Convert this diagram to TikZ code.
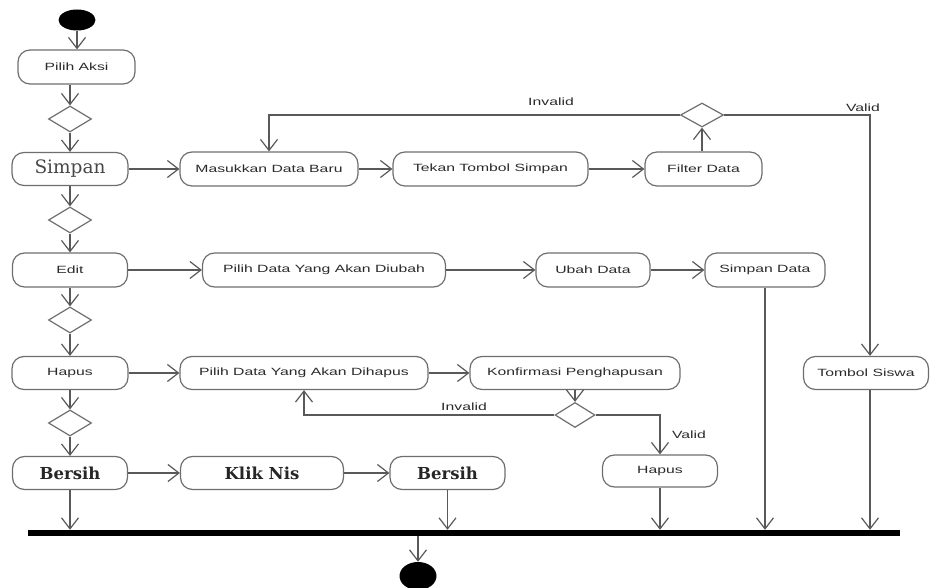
\documentclass[tikz,border=0pt]{standalone}
\usepackage{fontspec}
\usetikzlibrary{arrows.meta,shapes.geometric}
\newfontfamily\uifont[FakeStretch=1.5]{Liberation Sans}
\newfontfamily\serifact{DejaVu Serif}
\definecolor{linegray}{HTML}{595959}
\definecolor{boxgray}{HTML}{6E6E6E}
\definecolor{inkgray}{HTML}{2A2A2A}

\begin{document}
\begin{tikzpicture}[x=1pt,y=-1pt,
  act/.style={draw=boxgray, line width=1.2pt, rounded corners=12pt,
    minimum height=34pt, inner sep=0pt, text=inkgray,
    font=\uifont\fontsize{10.5}{12}\selectfont},
  bigact/.style={act, font=\serifact\fontsize{18.5}{20}\selectfont, text=black!72},
  boldact/.style={act, font=\serifact\bfseries\fontsize{16.5}{18}\selectfont, text=black!85},
  choice/.style={diamond, draw=boxgray, line width=1.2pt, inner sep=0pt,
    minimum width=43pt, minimum height=26pt},
  dot/.style={ellipse, fill=black, inner sep=0pt},
  flow/.style={draw=linegray, line width=1.2pt,
    -{Straight Barb[length=11pt,width=17pt]}},
  guard/.style={text=inkgray, font=\uifont\fontsize{10.5}{12}\selectfont, inner sep=1pt}
]
\useasboundingbox (0,0) rectangle (930,588);

% initial and final states
\node[dot, minimum width=37pt, minimum height=21pt] (start) at (77,20) {};
\node[dot, minimum width=37pt, minimum height=28pt] (end) at (418,576) {};

% synchronisation bar
\node[fill=black, inner sep=0pt, minimum width=872pt, minimum height=6pt] (bar) at (464,533) {};

% left column: choice of action
\node[act, minimum width=117pt] (pilih) at (76.5,67) {Pilih Aksi};
\node[choice] (c1) at (70,119) {};
\node[bigact, minimum width=116pt, minimum height=33pt] (simpan) at (70,169) {Simpan};
\node[choice] (c2) at (70,220) {};
\node[act, minimum width=115pt] (edit) at (70,270) {Edit};
\node[choice] (c3) at (70,320) {};
\node[act, minimum width=116pt, minimum height=33pt] (hapus) at (70,373) {Hapus};
\node[choice] (c4) at (70,423) {};
\node[boldact, minimum width=115pt, minimum height=33pt] (bersih) at (70,473) {Bersih};

% save branch
\node[act, minimum width=178pt] (masuk) at (269,169) {Masukkan Data Baru};
\node[act, minimum width=195pt] (tekan) at (490.5,169) {Tekan Tombol Simpan};
\node[act, minimum width=117pt] (filter) at (703.5,169) {Filter Data};
\node[choice, minimum height=24pt] (csave) at (702,115) {};
\node[act, minimum width=125pt, minimum height=33pt] (tombol) at (866,373) {Tombol Siswa};

% edit branch
\node[act, minimum width=243pt] (pubah) at (324,270) {Pilih Data Yang Akan Diubah};
\node[act, minimum width=114pt] (ubah) at (593,270) {Ubah Data};
\node[act, minimum width=120pt] (simdata) at (765,270) {Simpan Data};

% delete branch
\node[act, minimum width=248pt, minimum height=33pt] (phapus) at (304,373) {Pilih Data Yang Akan Dihapus};
\node[act, minimum width=210pt, minimum height=33pt] (konf) at (575,373) {Konfirmasi Penghapusan};
\node[choice, minimum width=40pt, minimum height=25pt] (cdel) at (575,415) {};
\node[act, minimum width=115pt, minimum height=32pt] (hapusb) at (660,471) {Hapus};

% clear branch
\node[boldact, minimum width=163pt, minimum height=33pt] (klik) at (262,473) {Klik Nis};
\node[boldact, minimum width=115pt, minimum height=33pt] (bersihb) at (447.5,473) {Bersih};

% guard labels
\node[guard] (ginv1) at (551,102) {Invalid};
\node[guard] (gval1) at (863,108) {Valid};
\node[guard] (ginv2) at (464,407) {Invalid};
\node[guard] (gval2) at (689,435) {Valid};

% main column flow
\draw[flow] (start.south) -- (start.south |- pilih.north);
\draw[flow] (pilih.south -| c1.north) -- (c1.north);
\draw[flow] (c1) -- (simpan);
\draw[flow] (simpan) -- (c2);
\draw[flow] (c2) -- (edit);
\draw[flow] (edit) -- (c3);
\draw[flow] (c3) -- (hapus);
\draw[flow] (hapus) -- (c4);
\draw[flow] (c4) -- (bersih);
\draw[flow] (bersih) -- (bersih |- bar.north);

% save flow
\draw[flow] (simpan) -- (masuk);
\draw[flow] (masuk) -- (tekan);
\draw[flow] (tekan) -- (filter);
\draw[flow] (filter.north -| csave) -- (csave.south);
\draw[flow] (csave.west) -| (masuk.north);
\draw[flow] (csave.east) -| ([xshift=4pt]tombol.north);
\draw[flow] ([xshift=4pt]tombol.south) -- ([xshift=4pt]tombol.south |- bar.north);

% edit flow
\draw[flow] (edit) -- (pubah);
\draw[flow] (pubah) -- (ubah);
\draw[flow] (ubah) -- (simdata);
\draw[flow] (simdata) -- (simdata |- bar.north);

% delete flow
\draw[flow] (hapus) -- (phapus);
\draw[flow] (phapus) -- (konf);
\draw[flow] (konf) -- (cdel);
\draw[flow] (cdel.west) -| (phapus.south);
\draw[flow] (cdel.east) -| (hapusb.north);
\draw[flow] (hapusb) -- (hapusb |- bar.north);

% clear flow
\draw[flow] (bersih) -- (klik);
\draw[flow] (klik) -- (bersihb);
\draw[flow] (bersihb) -- (bersihb |- bar.north);

% join to final state
\draw[flow] (bar.south -| end) -- (end);
\end{tikzpicture}
\end{document}
